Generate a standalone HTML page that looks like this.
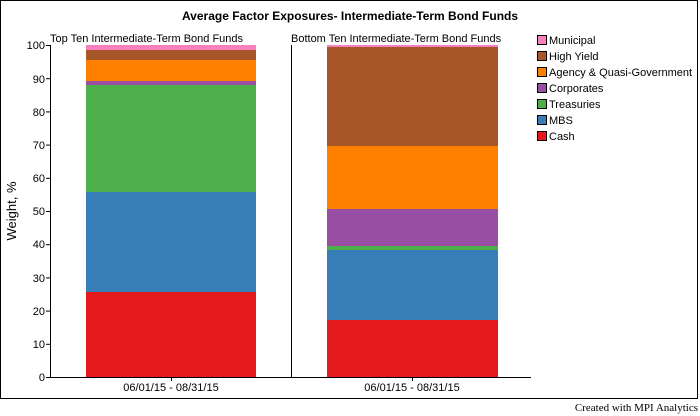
<!DOCTYPE html>
<html><head><meta charset="utf-8"><style>
html,body{margin:0;padding:0;background:#fff;}
svg{display:block;font-family:"Liberation Sans",Arial,sans-serif;}
</style></head><body>
<svg width="700" height="416" viewBox="0 0 700 416" xmlns="http://www.w3.org/2000/svg">
<rect x="0.5" y="0.5" width="697" height="398" fill="#fff" stroke="#000"/>
<text x="350" y="20" font-size="12" font-weight="bold" text-anchor="middle">Average Factor Exposures- Intermediate-Term Bond Funds</text>
<text x="50" y="42" font-size="11">Top Ten Intermediate-Term Bond Funds</text>
<text x="291" y="42" font-size="11">Bottom Ten Intermediate-Term Bond Funds</text>
<!-- left bar -->
<rect x="86" y="292" width="170" height="85" fill="#e41a1c"/>
<rect x="86" y="192" width="170" height="100" fill="#377eb8"/>
<rect x="86" y="85" width="170" height="107" fill="#4daf4a"/>
<rect x="86" y="81" width="170" height="4" fill="#984ea3"/>
<rect x="86" y="60" width="170" height="21" fill="#ff7f00"/>
<rect x="86" y="50" width="170" height="10" fill="#a65628"/>
<rect x="86" y="45" width="170" height="5" fill="#f781bf"/>
<!-- right bar -->
<rect x="327" y="320" width="171" height="57" fill="#e41a1c"/>
<rect x="327" y="250" width="171" height="70" fill="#377eb8"/>
<rect x="327" y="246" width="171" height="4" fill="#4daf4a"/>
<rect x="327" y="209" width="171" height="37" fill="#984ea3"/>
<rect x="327" y="146" width="171" height="63" fill="#ff7f00"/>
<rect x="327" y="47" width="171" height="99" fill="#a65628"/>
<rect x="327" y="45" width="171" height="2" fill="#f781bf"/>
<!-- axes -->
<line x1="50.5" y1="45" x2="50.5" y2="377" stroke="#000"/>
<line x1="291.5" y1="45" x2="291.5" y2="377" stroke="#000"/>
<line x1="46" y1="377.5" x2="531" y2="377.5" stroke="#000"/>
<line x1="171.5" y1="377" x2="171.5" y2="381" stroke="#000"/>
<line x1="412.5" y1="377" x2="412.5" y2="381" stroke="#000"/>
<g font-size="11" text-anchor="end">
<text x="45" y="381">0</text><line x1="46" y1="344.3" x2="50" y2="344.3" stroke="#000"/>
<text x="45" y="348">10</text><line x1="46" y1="311.1" x2="50" y2="311.1" stroke="#000"/>
<text x="45" y="315">20</text><line x1="46" y1="277.9" x2="50" y2="277.9" stroke="#000"/>
<text x="45" y="282">30</text><line x1="46" y1="244.7" x2="50" y2="244.7" stroke="#000"/>
<text x="45" y="248">40</text><line x1="46" y1="211.5" x2="50" y2="211.5" stroke="#000"/>
<text x="45" y="215">50</text><line x1="46" y1="178.3" x2="50" y2="178.3" stroke="#000"/>
<text x="45" y="182">60</text><line x1="46" y1="145.1" x2="50" y2="145.1" stroke="#000"/>
<text x="45" y="149">70</text><line x1="46" y1="111.9" x2="50" y2="111.9" stroke="#000"/>
<text x="45" y="116">80</text><line x1="46" y1="78.7" x2="50" y2="78.7" stroke="#000"/>
<text x="45" y="83">90</text><line x1="46" y1="45.5" x2="50" y2="45.5" stroke="#000"/>
<text x="45" y="49">100</text>
</g>
<text x="171" y="391" font-size="11" text-anchor="middle">06/01/15 - 08/31/15</text>
<text x="412" y="391" font-size="11" text-anchor="middle">06/01/15 - 08/31/15</text>
<text transform="translate(16,211) rotate(-90)" font-size="13" text-anchor="middle">Weight, %</text>
<!-- legend -->
<g font-size="11" stroke="#000">
<rect x="537.5" y="35.5" width="9" height="9" fill="#f781bf"/>
<rect x="537.5" y="51.5" width="9" height="9" fill="#a65628"/>
<rect x="537.5" y="67.5" width="9" height="9" fill="#ff7f00"/>
<rect x="537.5" y="83.5" width="9" height="9" fill="#984ea3"/>
<rect x="537.5" y="99.5" width="9" height="9" fill="#4daf4a"/>
<rect x="537.5" y="115.5" width="9" height="9" fill="#377eb8"/>
<rect x="537.5" y="131.5" width="9" height="9" fill="#e41a1c"/>
</g>
<g font-size="11">
<text x="549" y="44">Municipal</text>
<text x="549" y="60">High Yield</text>
<text x="549" y="76">Agency &amp; Quasi-Government</text>
<text x="549" y="92">Corporates</text>
<text x="549" y="108">Treasuries</text>
<text x="549" y="124">MBS</text>
<text x="549" y="140">Cash</text>
</g>
<text x="698" y="411" font-size="11" text-anchor="end" font-family="Liberation Serif,serif">Created with MPI Analytics</text>
</svg>
</body></html>
